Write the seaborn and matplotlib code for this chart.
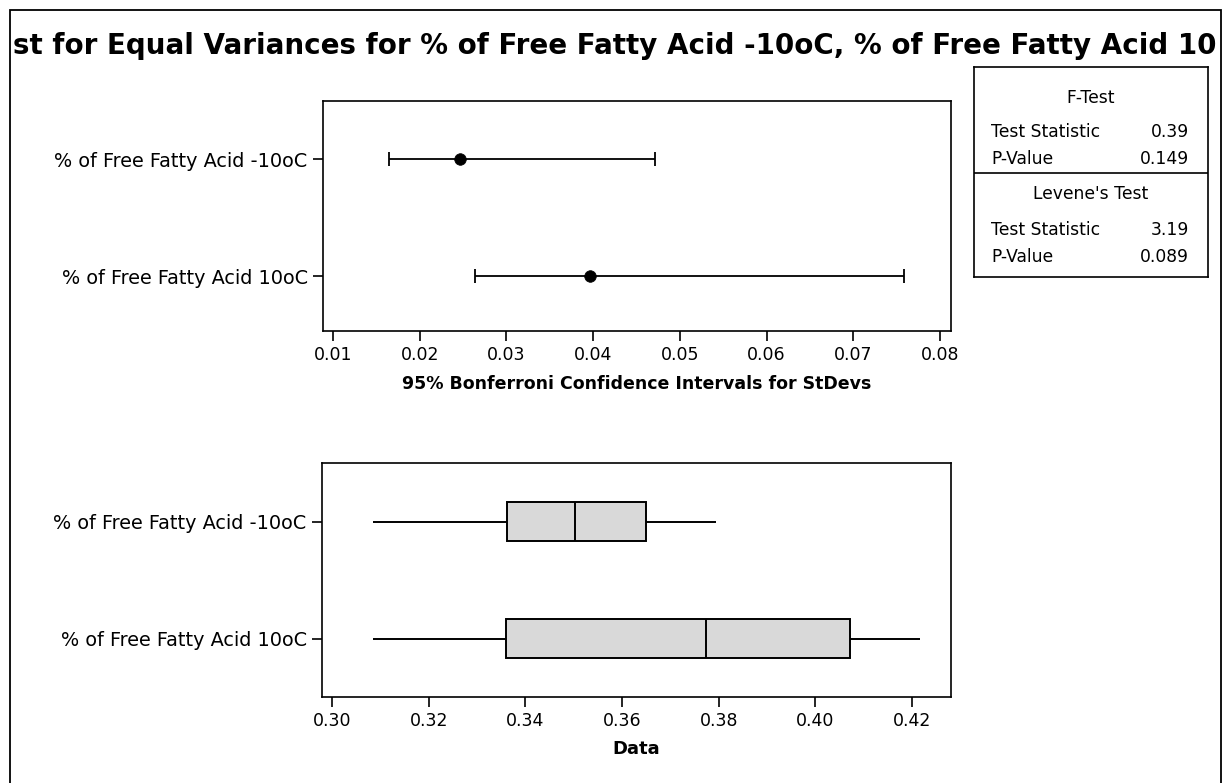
import numpy as np
import pandas as pd
import matplotlib
matplotlib.use("Agg")
import matplotlib.pyplot as plt
import seaborn as sns
from matplotlib.patches import Rectangle

# ---------------- data ----------------
groups = ["% of Free Fatty Acid -10oC", "% of Free Fatty Acid 10oC"]

# 95% Bonferroni confidence intervals for StDevs
sd_est = [0.0246, 0.0396]
ci_low = [0.0165, 0.0264]
ci_high = [0.0471, 0.0759]
ci_ticks = [0.01, 0.02, 0.03, 0.04, 0.05, 0.06, 0.07, 0.08]

# Box plot five-number summaries
box_min = [0.3084, 0.3084]
box_q1 = [0.3361, 0.3360]
box_med = [0.3502, 0.3773]
box_q3 = [0.3650, 0.4072]
box_max = [0.3795, 0.4216]
data_ticks = [0.30, 0.32, 0.34, 0.36, 0.38, 0.40, 0.42]

# the title as it is visible inside the frame of the original
title = "st for Equal Variances for % of Free Fatty Acid -10oC, % of Free Fatty Acid 10"
ci_xlabel = "95% Bonferroni Confidence Intervals for StDevs"
data_xlabel = "Data"

ftest_header = "F-Test"
ftest_rows = [("Test Statistic", "0.39"), ("P-Value", "0.149")]
levene_header = "Levene's Test"
levene_rows = [("Test Statistic", "3.19"), ("P-Value", "0.089")]

# ---------------- style ----------------
sns.set_style("white")
plt.rcParams["font.family"] = ["DejaVu Sans"]
plt.rcParams["axes.edgecolor"] = "black"
plt.rcParams["axes.linewidth"] = 1.2
plt.rcParams["text.color"] = "black"
plt.rcParams["axes.labelcolor"] = "black"
plt.rcParams["xtick.color"] = "black"
plt.rcParams["ytick.color"] = "black"

W, H = 1226, 783
fig = plt.figure(figsize=(W / 100, H / 100), dpi=100)
fig.patch.set_facecolor("white")


def fig_rect(left, top, right, bottom):
    return [left / W, 1 - bottom / H, (right - left) / W, (bottom - top) / H]


ax1 = fig.add_axes(fig_rect(323, 101, 951, 331))
ax2 = fig.add_axes(fig_rect(322, 463, 951, 697))
ax3 = fig.add_axes(fig_rect(974, 67, 1208, 277))

tick_kw = dict(direction="out", length=7, width=1.2, color="black")

# ---------------- top panel: CIs ----------------
err_lo = np.subtract(sd_est, ci_low)
err_hi = np.subtract(ci_high, sd_est)
ax1.errorbar(x=sd_est, y=groups, xerr=[err_lo, err_hi], fmt="none",
             ecolor="black", elinewidth=1.3, capsize=5, capthick=1.3, zorder=2)
sns.scatterplot(x=sd_est, y=groups, ax=ax1, color="black", s=70,
                edgecolor="black", linewidth=0.5, zorder=3, legend=False)
ax1.set_xlim(0.00885, 0.08127)
ax1.set_ylim(1.47, -0.5)
ax1.set_xticks(ci_ticks)
ax1.set_xticklabels([f"{t:.2f}" for t in ci_ticks])
ax1.set_xlabel(ci_xlabel, fontsize=12.5, fontweight="bold", labelpad=8)
ax1.set_ylabel("")

# ---------------- bottom panel: boxplots ----------------
rows = []
for g, a, b, c, d, e in zip(groups, box_min, box_q1, box_med, box_q3, box_max):
    for v in (a, b, c, d, e):
        rows.append({"group": g, "value": v})
df = pd.DataFrame(rows)

sns.boxplot(data=df, x="value", y="group", order=groups, orient="h", ax=ax2,
            width=0.33, color="#d9d9d9", saturation=1, linecolor="black",
            linewidth=1.4, whis=(0, 100), showcaps=False, fliersize=0)
ax2.set_xlim(0.2979, 0.4281)
ax2.set_ylim(1.5, -0.5)
ax2.set_xticks(data_ticks)
ax2.set_xticklabels([f"{t:.2f}" for t in data_ticks])
ax2.set_xlabel(data_xlabel, fontsize=13, fontweight="bold", labelpad=7)
ax2.set_ylabel("")

for ax in (ax1, ax2):
    for sp in ax.spines.values():
        sp.set_visible(True)
        sp.set_color("black")
        sp.set_linewidth(1.2)
    ax.tick_params(axis="both", which="both", top=False, right=False,
                   bottom=True, left=True, **tick_kw)
    ax.tick_params(axis="y", labelsize=13.9, pad=4)
    ax.tick_params(axis="x", labelsize=12.5, pad=4)
    ax.grid(False)

# ---------------- table ----------------
ax3.set_xlim(0, 1)
ax3.set_ylim(0, 1)
ax3.set_xticks([])
ax3.set_yticks([])
for sp in ax3.spines.values():
    sp.set_visible(True)
    sp.set_color("black")
    sp.set_linewidth(1.2)
ax3.axhline(0.495, color="black", lw=1.2)
tfs = 12.3
ax3.text(0.5, 0.852, ftest_header, ha="center", va="center", fontsize=tfs)
for (lab, val), y in zip(ftest_rows, [0.690, 0.562]):
    ax3.text(0.073, y, lab, ha="left", va="center", fontsize=tfs)
    ax3.text(0.919, y, val, ha="right", va="center", fontsize=tfs)
ax3.text(0.5, 0.395, levene_header, ha="center", va="center", fontsize=tfs)
for (lab, val), y in zip(levene_rows, [0.224, 0.095]):
    ax3.text(0.073, y, lab, ha="left", va="center", fontsize=tfs)
    ax3.text(0.919, y, val, ha="right", va="center", fontsize=tfs)

# ---------------- outer frame ----------------
frame_l, frame_r, frame_t = 10, 1221, 10
frame = Rectangle((frame_l / W, -0.02), (frame_r - frame_l) / W,
                  (H - frame_t) / H + 0.02, transform=fig.transFigure,
                  fill=False, ec="black", lw=1.3)
fig.patches.append(frame)

# ---------------- title, fitted to the inside of the frame ----------------
renderer = fig.canvas.get_renderer()
s0 = 20.0
probe = fig.text(0, 0, title, fontsize=s0, fontweight="bold")
w0 = probe.get_window_extent(renderer).width
probe.remove()
t_left, t_right = frame_l + 3, frame_r - 3
fs = s0 * (t_right - t_left) / w0
fig.text(t_left / W, 1 - 54 / H, title, fontsize=fs, fontweight="bold",
         ha="left", va="baseline", color="black")

fig.savefig("out.png", dpi=100, facecolor="white")
